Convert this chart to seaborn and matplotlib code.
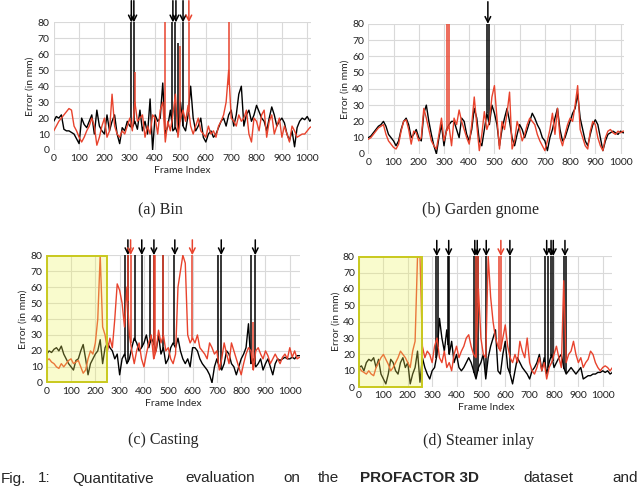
import numpy as np
import matplotlib
matplotlib.use("Agg")
import matplotlib.pyplot as plt
from matplotlib.patches import Rectangle
import seaborn as sns

# error (mm) sampled every 10 frames, plus narrow spikes listed separately
frames_ab = np.arange(0, 1021, 10)
frames_cd = np.arange(0, 1041, 10)

bin_black = [18, 21, 20, 22, 13, 12, 12, 11, 10, 7,
             4, 20, 16, 14, 18, 22, 10, 25, 15, 12,
             10, 22, 12, 18, 22, 10, 4, 14, 12, 18,
             15, 14, 18, 13, 25, 12, 18, 10, 32, 0,
             22, 18, 20, 42, 10, 15, 25, 12, 14, 10,
             30, 15, 12, 22, 40, 20, 12, 15, 20, 8,
             5, 10, 12, 8, 10, 14, 18, 20, 15, 22,
             25, 15, 22, 35, 40, 15, 22, 25, 18, 22,
             28, 24, 20, 18, 12, 20, 27, 22, 15, 18,
             20, 17, 10, 6, 12, 2, 14, 18, 20, 19,
             21, 18, 20]
bin_red = [12, 15, 18, 20, 22, 24, 26, 25, 15, 12,
           8, 5, 8, 12, 15, 20, 15, 3, 8, 15,
           20, 8, 12, 35, 15, 10, 8, 12, 10, 15,
           20, 12, 30, 18, 20, 22, 8, 15, 10, 22,
           20, 10, 25, 30, 5, 18, 12, 22, 35, 8,
           20, 25, 18, 28, 15, 10, 15, 20, 12, 10,
           8, 15, 10, 12, 8, 15, 18, 22, 30, 50,
           20, 18, 15, 22, 18, 20, 25, 10, 5, 20,
           18, 12, 22, 25, 8, 18, 22, 10, 15, 20,
           8, 15, 10, 5, 15, 12, 8, 9, 10, 10,
           12, 14, 15]
bin_black_spk_f = [305, 316, 468, 480, 492, 510]
bin_black_spk_v = [95, 95, 95, 95, 67, 95]
bin_red_spk_f = [322, 437, 498, 533, 693]
bin_red_spk_v = [49, 95, 65, 95, 95]
bin_arrows_black = [306, 316, 470, 482, 510]
bin_arrows_red = [533]

gnome_black = [10, 11, 13, 15, 17, 18, 20, 17, 12, 10,
               8, 5, 8, 15, 20, 22, 18, 10, 12, 15,
               10, 8, 25, 30, 20, 12, 5, 0, 10, 18,
               5, 15, 18, 20, 20, 15, 10, 22, 20, 12,
               8, 15, 28, 22, 8, 5, 15, 25, 18, 30,
               25, 18, 5, 15, 22, 28, 20, 10, 5, 12,
               18, 15, 10, 15, 20, 25, 22, 18, 15, 10,
               8, 2, 10, 15, 22, 28, 15, 8, 10, 15,
               20, 25, 28, 37, 22, 15, 8, 5, 12, 18,
               21, 18, 10, 2, 8, 12, 13, 14, 13, 12,
               14, 13, 13]
gnome_red = [9, 10, 12, 14, 16, 17, 18, 12, 8, 6,
             4, 3, 6, 14, 20, 21, 15, 6, 14, 13,
             8, 10, 28, 22, 15, 8, 5, 3, 12, 22,
             8, 14, 17, 5, 22, 18, 27, 20, 15, 10,
             6, 18, 35, 18, 2, 12, 26, 15, 20, 35,
             42, 22, 3, 20, 15, 25, 38, 3, 8, 20,
             15, 8, 12, 18, 22, 20, 18, 12, 8, 5,
             2, 8, 15, 25, 12, 28, 10, 5, 12, 18,
             22, 20, 30, 42, 15, 10, 5, 3, 14, 20,
             18, 10, 5, 2, 10, 14, 15, 13, 12, 14,
             13, 14, 14]
gnome_black_spk_f = [470, 478]
gnome_black_spk_v = [95, 95]
gnome_red_spk_f = [310, 319]
gnome_red_spk_v = [95, 95]
gnome_arrows_black = [474]
gnome_arrows_red = []

cast_black = [18, 20, 19, 21, 22, 20, 23, 18, 15, 12,
              10, 8, 14, 15, 20, 24, 15, 5, 12, 15,
              18, 20, 27, 12, 22, 25, 22, 20, 15, 18,
              5, 15, 18, 12, 15, 22, 28, 25, 20, 22,
              25, 30, 22, 28, 25, 20, 30, 18, 22, 12,
              15, 22, 25, 22, 28, 20, 15, 12, 15, 10,
              22, 22, 20, 15, 12, 10, 8, 5, 0, 10,
              15, 10, 8, 12, 20, 18, 12, 10, 5, 10,
              15, 18, 22, 37, 12, 15, 10, 12, 15, 8,
              12, 15, 10, 5, 12, 15, 14, 15, 16, 15,
              15, 16, 15, 17, 17]
cast_red = [14, 15, 13, 12, 10, 9, 12, 10, 12, 14,
            15, 12, 13, 14, 10, 6, 8, 15, 20, 18,
            25, 40, 80, 35, 30, 20, 28, 22, 40, 62,
            58, 50, 35, 60, 30, 20, 12, 20, 25, 15,
            10, 18, 25, 30, 15, 20, 33, 25, 30, 20,
            22, 15, 12, 18, 60, 70, 80, 75, 30, 25,
            28, 25, 30, 22, 20, 18, 15, 25, 22, 18,
            20, 8, 15, 25, 18, 12, 25, 20, 15, 10,
            5, 12, 18, 22, 20, 8, 20, 22, 18, 15,
            20, 17, 12, 15, 18, 15, 12, 16, 18, 15,
            22, 16, 20, 15, 16]
cast_black_spk_f = [322, 334, 365, 392, 425, 443, 478, 523, 705, 718, 840, 856]
cast_black_spk_v = [95] * 12
cast_red_spk_f = [333, 345, 440, 447, 480, 597, 850]
cast_red_spk_v = [95, 95, 95, 95, 95, 95, 38]
cast_arrows_black = [334, 391, 441, 527, 718, 858]
cast_arrows_red = [345, 599]

steam_black = [12, 13, 10, 15, 17, 16, 18, 12, 17, 8,
               5, 2, 8, 17, 15, 10, 8, 15, 18, 12,
               15, 2, 8, 12, 22, 3, 18, 12, 8, 5,
               10, 12, 20, 42, 30, 22, 35, 20, 28, 15,
               20, 12, 10, 12, 15, 18, 15, 10, 5, 12,
               15, 20, 5, 18, 25, 30, 35, 10, 8, 20,
               28, 12, 8, 2, 10, 18, 15, 12, 10, 8,
               5, 10, 12, 15, 20, 10, 18, 8, 15, 20,
               12, 15, 18, 20, 12, 8, 10, 12, 10, 8,
               10, 12, 5, 6, 7, 7, 8, 8, 9, 9,
               10, 9, 10, 8, 9]
steam_red = [12, 10, 9, 8, 10, 8, 7, 12, 15, 18,
             20, 17, 14, 10, 12, 15, 18, 22, 20, 18,
             15, 12, 22, 28, 80, 80, 25, 18, 22, 20,
             15, 25, 30, 18, 15, 22, 12, 15, 10, 20,
             25, 18, 22, 25, 30, 32, 25, 20, 18, 60,
             30, 20, 18, 80, 55, 40, 30, 25, 22, 30,
             38, 25, 18, 15, 20, 15, 28, 22, 18, 30,
             15, 10, 8, 12, 18, 10, 15, 5, 12, 15,
             20, 25, 18, 12, 65, 15, 20, 22, 28, 20,
             15, 18, 12, 15, 17, 22, 20, 15, 12, 10,
             12, 13, 12, 10, 12]
steam_black_spk_f = [317, 322, 366, 370, 473, 478, 487, 522, 619,
                     765, 775, 788, 795, 843, 848]
steam_black_spk_v = [95] * 15
steam_red_spk_f = [478, 488, 575, 582]
steam_red_spk_v = [95, 95, 95, 95]
steam_arrows_black = [319, 368, 475, 485, 522, 619, 770, 788, 797, 845]
steam_arrows_red = [582]

caption_words = ['Fig.', '1:', 'Quantitative', 'evaluation', 'on', 'the',
                 'PROFACTOR 3D', 'dataset', 'and']
caption_x = [0, 38, 72, 185, 283, 318, 360, 523, 612]

RED = '#e8432d'
GRID = '#d9d9d9'

sns.set_style("white")
plt.rcParams['font.family'] = ['Lato', 'DejaVu Sans']

fig = plt.figure(figsize=(6.4, 4.87), dpi=100)


def panel(rect, frames, black, red, bsf, bsv, rsf, rsv, arr_b, arr_r,
          xmax, arr_h, xlabel=True, box=None):
    ax = fig.add_axes(rect)
    sns.lineplot(x=frames, y=black, color='black', lw=1.0, ax=ax, estimator=None)
    ax.vlines(bsf, np.interp(bsf, frames, black), bsv, color='black', lw=1.1)
    sns.lineplot(x=frames, y=red, color=RED, lw=1.0, ax=ax, estimator=None)
    ax.vlines(rsf, np.interp(rsf, frames, red), rsv, color=RED, lw=1.1)
    ax.set_xlim(0, xmax)
    ax.set_ylim(0, 80)
    ax.set_xticks(range(0, 1001, 100))
    ax.set_yticks(range(0, 81, 10))
    ax.grid(True, color=GRID, lw=0.8)
    ax.set_axisbelow(True)
    for s in ax.spines.values():
        s.set_visible(False)
    ax.tick_params(length=0, labelsize=7.5, pad=3, colors='#222222')
    ax.set_ylabel('Error (in mm)', fontsize=7.5, labelpad=2)
    ax.set_xlabel('Frame Index' if xlabel else '', fontsize=7.5, labelpad=2)
    if box is not None:
        ax.add_patch(Rectangle((0, 0), box, 80, facecolor='#eef35a',
                               alpha=0.3, edgecolor='none', zorder=5))
        ax.add_patch(Rectangle((0, 0.3), box, 79.4, facecolor='none',
                               edgecolor='#c9c91e', lw=1.4, zorder=6,
                               clip_on=False))
    for f in arr_b:
        ax.annotate('', xy=(f, 1.0), xycoords=('data', 'axes fraction'),
                    xytext=(f, 1.0 + arr_h), textcoords=('data', 'axes fraction'),
                    arrowprops=dict(arrowstyle='->', color='black', lw=1.1,
                                    shrinkA=0, shrinkB=0),
                    annotation_clip=False)
    for f in arr_r:
        ax.annotate('', xy=(f, 1.0), xycoords=('data', 'axes fraction'),
                    xytext=(f, 1.0 + arr_h), textcoords=('data', 'axes fraction'),
                    arrowprops=dict(arrowstyle='->', color=RED, lw=1.1,
                                    shrinkA=0, shrinkB=0),
                    annotation_clip=False)
    return ax


panel([0.084, 0.692, 0.402, 0.262], frames_ab, bin_black, bin_red,
      bin_black_spk_f, bin_black_spk_v, bin_red_spk_f, bin_red_spk_v,
      bin_arrows_black, bin_arrows_red, 1015, 0.17)
panel([0.5755, 0.684, 0.400, 0.267], frames_ab, gnome_black, gnome_red,
      gnome_black_spk_f, gnome_black_spk_v, gnome_red_spk_f, gnome_red_spk_v,
      gnome_arrows_black, gnome_arrows_red, 1015, 0.17, xlabel=False)
panel([0.073, 0.214, 0.395, 0.262], frames_cd, cast_black, cast_red,
      cast_black_spk_f, cast_black_spk_v, cast_red_spk_f, cast_red_spk_v,
      cast_arrows_black, cast_arrows_red, 1040, 0.12, box=250)
panel([0.561, 0.205, 0.396, 0.269], frames_cd, steam_black, steam_red,
      steam_black_spk_f, steam_black_spk_v, steam_red_spk_f, steam_red_spk_v,
      steam_arrows_black, steam_arrows_red, 1040, 0.12, box=257)

serif = ['Liberation Serif', 'DejaVu Serif']
fig.text(0.25, 1 - 210 / 487, '(a) Bin', ha='center', va='center', fontsize=11.5, family=serif)
fig.text(0.75, 1 - 210 / 487, '(b) Garden gnome', ha='center', va='center', fontsize=11.5, family=serif)
fig.text(0.255, 1 - 440 / 487, '(c) Casting', ha='center', va='center', fontsize=11.5, family=serif)
fig.text(0.747, 1 - 441 / 487, '(d) Steamer inlay', ha='center', va='center', fontsize=11.5, family=serif)

sans = ['Liberation Sans', 'DejaVu Sans']
for w, px in zip(caption_words, caption_x):
    fig.text(max(px, 1) / 640, 1.5 / 487, w, ha='left', va='bottom', fontsize=11,
             family=sans, fontweight='bold' if w.startswith('PRO') else 'normal')

fig.savefig('out.png', dpi=100)
